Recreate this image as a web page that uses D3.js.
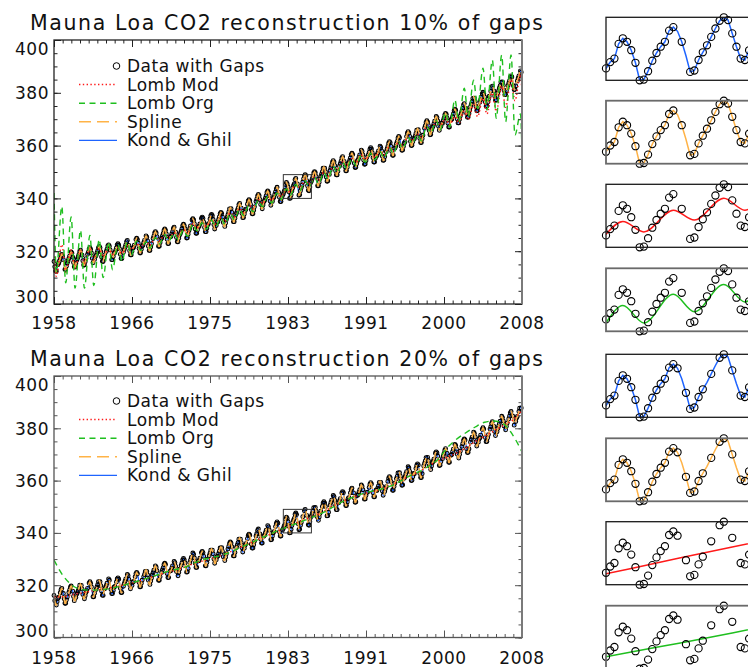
<!DOCTYPE html>
<html>
<head>
<meta charset="utf-8">
<script src="https://cdn.jsdelivr.net/npm/d3@7"></script>
<style>
  body { margin: 0; background: #fff; }
  svg { display: block; font-family: "DejaVu Sans", sans-serif; }
</style>
</head>
<body>
<div id="chart"></div>
<script>
// monthly CO2 (ppm), first row Jul-Dec 1958, last row Jan-Jun 2008
const co2 = [
  316.1, 314.1, 312.5, 312.4, 313.7, 314.9,
  315.4, 316.3, 317.1, 318.3, 318.8, 318.2, 316.8, 314.8, 313.1, 313.1, 314.4, 315.5,
  316.3, 317.2, 318.1, 319.2, 319.7, 319.2, 317.7, 315.7, 314.1, 314.0, 315.3, 316.5,
  317.1, 317.9, 318.8, 320.0, 320.4, 319.9, 318.5, 316.4, 314.8, 314.8, 316.0, 317.2,
  317.9, 318.8, 319.6, 320.8, 321.3, 320.7, 319.3, 317.3, 315.6, 315.6, 316.9, 318.0,
  318.4, 319.3, 320.2, 321.3, 321.8, 321.3, 319.8, 317.8, 316.2, 316.1, 317.4, 318.6,
  319.1, 319.9, 320.8, 322.0, 322.4, 321.9, 320.5, 318.4, 316.8, 316.8, 318.0, 319.2,
  319.5, 320.3, 321.2, 322.4, 322.8, 322.3, 320.9, 318.8, 317.2, 317.2, 318.4, 319.6,
  320.6, 321.5, 322.4, 323.6, 324.1, 323.6, 322.2, 320.2, 318.6, 318.6, 319.9, 321.1,
  321.4, 322.3, 323.2, 324.4, 324.9, 324.4, 323.0, 321.0, 319.4, 319.4, 320.7, 321.9,
  322.3, 323.2, 324.1, 325.3, 325.8, 325.3, 323.9, 321.9, 320.3, 320.3, 321.6, 322.8,
  323.9, 324.8, 325.7, 326.9, 327.4, 326.9, 325.5, 323.5, 321.9, 321.9, 323.2, 324.4,
  324.9, 325.8, 326.7, 327.9, 328.4, 327.9, 326.5, 324.5, 322.9, 322.9, 324.2, 325.4,
  325.6, 326.5, 327.4, 328.6, 329.1, 328.6, 327.2, 325.2, 323.6, 323.6, 324.9, 326.1,
  326.7, 327.6, 328.5, 329.7, 330.2, 329.7, 328.5, 326.6, 325.0, 325.1, 326.4, 327.7,
  328.6, 329.6, 330.6, 331.8, 332.3, 331.8, 330.4, 328.4, 326.8, 326.8, 328.1, 329.3,
  329.4, 330.3, 331.2, 332.4, 332.9, 332.4, 331.0, 329.0, 327.4, 327.4, 328.7, 329.9,
  330.4, 331.3, 332.2, 333.4, 333.9, 333.4, 332.0, 330.0, 328.4, 328.4, 329.7, 330.9,
  331.1, 332.0, 333.0, 334.2, 334.7, 334.3, 332.9, 330.9, 329.4, 329.4, 330.7, 332.0,
  332.9, 333.8, 334.8, 336.0, 336.5, 336.1, 334.7, 332.7, 331.2, 331.2, 332.5, 333.8,
  334.5, 335.4, 336.3, 337.6, 338.1, 337.6, 336.3, 334.3, 332.7, 332.8, 334.1, 335.3,
  335.9, 336.8, 337.8, 339.0, 339.5, 339.1, 337.7, 335.7, 334.2, 334.2, 335.5, 336.8,
  337.8, 338.8, 339.7, 340.9, 341.5, 341.0, 339.6, 337.7, 336.1, 336.1, 337.5, 338.7,
  339.2, 340.1, 341.0, 342.3, 342.8, 342.3, 341.0, 339.0, 337.4, 337.5, 338.8, 340.0,
  340.5, 341.5, 342.4, 343.6, 344.2, 343.7, 342.3, 340.4, 338.8, 338.8, 340.2, 341.1,
  341.7, 342.6, 343.1, 345.2, 346.0, 345.5, 344.3, 342.5, 340.0, 340.1, 341.3, 342.8,
  343.9, 344.8, 345.5, 347.1, 347.6, 347.0, 345.5, 343.5, 341.2, 341.4, 342.9, 344.0,
  345.0, 346.2, 347.4, 348.5, 349.0, 348.6, 346.7, 344.8, 343.1, 342.9, 344.3, 345.9,
  346.5, 347.4, 348.4, 349.6, 350.1, 349.7, 348.3, 346.3, 344.8, 344.8, 346.1, 347.4,
  348.3, 349.2, 350.1, 351.4, 351.9, 351.4, 350.1, 348.1, 346.5, 346.6, 347.9, 349.1,
  350.6, 351.6, 352.5, 353.7, 354.3, 353.8, 352.4, 350.5, 348.9, 348.9, 350.3, 351.5,
  352.2, 353.1, 354.1, 355.3, 355.8, 355.4, 354.0, 352.0, 350.5, 350.5, 351.8, 353.1,
  353.5, 354.4, 355.3, 356.6, 357.1, 356.6, 355.3, 353.3, 351.7, 351.8, 353.1, 354.3,
  354.7, 355.6, 356.5, 357.8, 358.3, 357.8, 356.5, 354.5, 352.9, 353.0, 354.3, 355.5,
  355.5, 356.5, 357.4, 358.6, 359.2, 358.7, 357.3, 355.4, 353.8, 353.8, 355.2, 356.4,
  356.2, 357.1, 358.0, 359.3, 359.8, 359.3, 358.0, 356.0, 354.4, 354.5, 355.8, 357.0,
  357.7, 358.7, 359.7, 360.9, 361.5, 361.1, 359.7, 357.8, 356.3, 356.3, 357.7, 359.0,
  359.7, 360.7, 361.6, 362.9, 363.5, 363.0, 361.7, 359.8, 358.2, 358.3, 359.7, 360.9,
  361.5, 362.5, 363.4, 364.7, 365.3, 364.8, 363.5, 361.6, 360.0, 360.1, 361.5, 362.7,
  362.6, 363.6, 364.6, 365.8, 366.4, 366.0, 364.6, 362.7, 361.2, 361.2, 362.6, 363.9,
  365.6, 366.6, 367.5, 368.8, 369.4, 368.9, 367.6, 365.7, 364.1, 364.2, 365.6, 366.8,
  367.3, 368.2, 369.2, 370.5, 371.0, 370.6, 369.3, 367.3, 365.8, 365.9, 367.2, 368.5,
  368.4, 369.4, 370.4, 371.6, 372.2, 371.8, 370.4, 368.5, 367.0, 367.0, 368.4, 369.7,
  370.0, 371.0, 372.0, 373.2, 373.8, 373.4, 372.0, 370.1, 368.6, 368.6, 370.0, 371.3,
  372.2, 373.1, 374.1, 375.4, 375.9, 375.5, 374.2, 372.2, 370.7, 370.8, 372.1, 373.4,
  374.7, 375.7, 376.6, 377.9, 378.5, 378.0, 376.7, 374.8, 373.2, 373.3, 374.7, 375.9,
  376.4, 377.4, 378.3, 379.6, 380.2, 379.7, 378.4, 376.5, 374.9, 375.0, 376.4, 377.6,
  378.7, 379.7, 380.6, 381.9, 382.5, 382.0, 380.7, 378.8, 377.2, 377.3, 378.7, 379.9,
  380.8, 381.8, 382.7, 384.0, 384.6, 384.1, 382.8, 380.9, 379.3, 379.4, 380.8, 382.0,
  382.7, 383.6, 384.6, 385.9, 386.4, 386.0, 384.7, 382.7, 381.2, 381.3, 382.6, 383.9,
  384.5, 385.5, 386.4, 387.7, 388.3, 387.8
];

// indices of removed months
const gaps10 = [4, 13, 21, 35, 42, 51, 66, 73, 88, 95, 104, 117, 126, 133, 148, 155, 169, 176, 188, 199,
  207, 218, 226, 239, 247, 258, 266, 279, 287, 311, 313, 337, 346, 352, 365, 371, 384, 393, 402, 417,
  425, 436, 444, 451, 466, 474, 489, 495, 508, 516, 527, 538, 545, 559, 563, 574, 581, 588, 593, 597];
const gaps20 = [2, 7, 11, 18, 23, 27, 34, 38, 44, 49, 53, 58, 64, 69, 72, 79, 84, 88, 93, 99,
  103, 108, 114, 118, 122, 129, 133, 137, 144, 148, 153, 158, 162, 169, 173, 177, 184, 188, 193, 198,
  202, 207, 214, 218, 222, 229, 233, 238, 243, 247, 252, 258, 263, 268, 273, 277, 283, 288, 292, 312,
  318, 320, 323, 325, 334, 338, 343, 349, 353, 357, 364, 368, 372, 379, 383, 388, 393, 397, 403, 408,
  412, 418, 423, 427, 433, 438, 442, 448, 453, 457, 463, 468, 473, 478, 482, 488, 493, 497, 503, 508,
  513, 518, 522, 528, 533, 537, 543, 548, 552, 558, 563, 567, 573, 578, 582, 587, 589, 591, 595, 598];

// Lomb reconstructions, 10% gaps: yearly trough (Oct) and peak (May), plus start/end values
const lombMod10Trough = [310.5, 312.0, 313.5, 315.5, 316.8, 318.0, 318.8, 319.2, 320.6, 321.4,
  322.2, 323.8, 324.9, 325.5, 326.7, 328.9, 329.4, 330.3, 331.2, 333.0,
  334.6, 336.0, 338.0, 339.3, 340.7, 342.2, 343.9, 345.3, 346.6, 348.4,
  350.8, 352.3, 353.6, 354.8, 355.7, 356.3, 358.0, 360.0, 361.8, 362.9,
  365.9, 367.6, 367.8, 368.5, 369.8, 371.0, 372.0, 373.0, 374.5, 377.0];
const lombMod10Peak = [322.5, 320.5, 320.5, 320.8, 320.9, 321.0, 320.7, 322.1, 322.9, 323.7,
  325.3, 326.4, 327.0, 328.2, 330.4, 330.9, 331.8, 332.7, 334.5, 336.1,
  337.5, 339.5, 340.8, 342.2, 343.7, 345.3, 347.0, 348.1, 349.9, 352.3,
  353.8, 355.1, 356.3, 357.2, 357.8, 359.5, 361.5, 363.3, 364.4, 367.4,
  369.1, 370.3, 371.0, 373.0, 375.5, 378.0, 380.0, 382.5, 385.0, 387.0];
const lombMod10Ends = [318.0, 380.0];

const lombOrg10Trough = [312.0, 308.0, 306.0, 306.0, 307.0, 310.0, 313.0, 316.0, 318.5, 320.3,
  321.1, 322.7, 323.8, 324.4, 325.6, 327.8, 328.3, 329.2, 330.1, 331.9,
  333.5, 334.9, 336.9, 338.2, 339.6, 341.2, 342.8, 344.2, 345.5, 347.3,
  349.7, 351.2, 352.5, 353.7, 354.6, 355.2, 356.9, 358.9, 360.7, 361.8,
  364.8, 366.0, 367.0, 369.0, 371.0, 374.0, 373.5, 370.3, 369.0, 364.0];
const lombOrg10Peak = [337.0, 333.0, 328.0, 326.0, 324.5, 323.5, 322.5, 323.5, 323.8, 323.6,
  325.2, 326.3, 326.9, 328.1, 330.3, 330.8, 331.7, 332.6, 334.4, 336.0,
  337.4, 339.4, 340.7, 342.1, 343.7, 345.3, 346.7, 348.0, 349.8, 352.2,
  353.7, 355.0, 356.2, 357.1, 357.7, 359.4, 361.4, 363.2, 364.3, 367.3,
  369.5, 372.5, 377.3, 381.7, 384.8, 389.3, 392.4, 394.3, 394.3, 372.0];
const lombOrg10Ends = [342.0, 357.7];

// Lomb reconstructions, 20% gaps: one value per year 1958..2008
const lombMod20 = [315.5, 315.6, 316.4, 317.1, 317.8, 318.4, 319.0, 319.7, 320.6, 321.5,
  322.6, 323.8, 324.8, 325.8, 327.0, 328.3, 329.4, 330.5, 331.6, 333.0,
  334.6, 336.1, 337.8, 339.3, 340.8, 342.3, 343.9, 345.4, 346.8, 348.5,
  350.6, 352.3, 353.7, 354.9, 355.8, 356.7, 358.2, 360.0, 361.8, 363.4,
  365.6, 367.5, 369.0, 370.5, 372.5, 374.9, 376.9, 379.0, 381.1, 383.1, 387.0];
const lombOrg20 = [329.6, 323.5, 319.8, 318.3, 318.1, 318.3, 318.8, 319.5, 320.6, 321.6,
  322.7, 323.9, 325.1, 326.0, 326.9, 328.5, 329.9, 330.6, 331.6, 332.9,
  334.6, 336.1, 337.8, 339.4, 341.0, 342.4, 343.7, 345.1, 346.6, 348.2,
  350.3, 352.3, 353.7, 355.0, 356.0, 356.8, 358.0, 359.8, 361.8, 363.4,
  365.5, 368.0, 372.5, 375.8, 378.3, 380.5, 382.3, 382.8, 381.8, 377.5, 371.0];

const xTickLabels = ["1958", "1966", "1975", "1983", "1991", "2000", "2008"];
const yTickValues = [300, 320, 340, 360, 380, 400];
const legendNames = ["Data with Gaps", "Lomb Mod", "Lomb Org", "Spline", "Kond & Ghil"];
const zoomX = [1982.5, 1985.5];
const zoomY = [340, 349];

// ---------------------------------------------------------------
const timeOf = i => 1958 + i / 12;

function extremesToPoints(ends, troughs, peaks) {
  const pts = [[1958, ends[0]]];
  troughs.forEach((v, k) => {
    pts.push([1958 + k + 3 / 12, v]);
    pts.push([1958 + k + 10 / 12, peaks[k]]);
  });
  pts.push([2008, ends[1]]);
  return pts;
}
const annualPoints = vals => vals.map((v, j) => [1958 + j, v]);
const fullPoints = co2.map((v, i) => [timeOf(i), v]);

const styles = {
  mod:    { color: "#ff1a1a", dash: "1.4,2.4", width: 1.5 },
  org:    { color: "#1fbf1f", dash: "6,4.5",   width: 1.4 },
  spline: { color: "#ffb347", dash: "12,6",    width: 1.5 },
  kg:     { color: "#1e64ff", dash: null,      width: 1.3 }
};

const charts = [
  { title: "Mauna Loa CO2 reconstruction 10% of gaps", top: 40, bottom: 304, titleY: 30, labelY: 329,
    legendY: 66, frame: "#222", gaps: new Set(gaps10),
    mod: extremesToPoints(lombMod10Ends, lombMod10Trough, lombMod10Peak),
    org: extremesToPoints(lombOrg10Ends, lombOrg10Trough, lombOrg10Peak) },
  { title: "Mauna Loa CO2 reconstruction 20% of gaps", top: 376, bottom: 637.5, titleY: 366, labelY: 664,
    legendY: 401, frame: "#555", gaps: new Set(gaps20),
    mod: annualPoints(lombMod20), org: annualPoints(lombOrg20) }
];

const svg = d3.select("#chart").append("svg")
    .attr("width", 748)
    .attr("height", 667);

const x = d3.scaleLinear().domain([1958, 2008]).range([54, 522]);
const xMajor = d3.range(7).map(j => 1958 + j * 50 / 6);
const xMinor = d3.range(55).map(j => 1958 + j * 50 / 54);
const yMinor = d3.range(300, 401, 5);

charts.forEach((c, ci) => {
    const y = d3.scaleLinear().domain([300, 400]).range([c.bottom, c.top]);
    const g = svg.append("g");

    g.append("clipPath").attr("id", "clip" + ci)
      .append("rect")
        .attr("x", 54).attr("y", c.top)
        .attr("width", 468).attr("height", c.bottom - c.top);

    // title
    g.append("text")
        .attr("x", 30).attr("y", c.titleY)
        .attr("textLength", 513).attr("lengthAdjust", "spacing")
        .style("font-size", "20.5px").attr("fill", "#111")
        .text(c.title);

    const lineLin = d3.line().x(d => x(d[0])).y(d => y(d[1]));
    const lineSmooth = d3.line().x(d => x(d[0])).y(d => y(d[1])).curve(d3.curveMonotoneX);
    const drawLine = (k, dStr) => g.append("path")
        .attr("clip-path", `url(#clip${ci})`)
        .attr("d", dStr)
        .attr("fill", "none")
        .attr("stroke", styles[k].color)
        .attr("stroke-width", styles[k].width)
        .attr("stroke-dasharray", styles[k].dash);

    // blue sits under the data circles, the other curves above them
    drawLine("kg", lineLin(fullPoints));

    g.append("g").selectAll("circle")
        .data(fullPoints.filter((p, i) => !c.gaps.has(i)))
        .join("circle")
        .attr("cx", d => x(d[0])).attr("cy", d => y(d[1]))
        .attr("r", 1.9)
        .attr("fill", "none").attr("stroke", "#000").attr("stroke-width", 1.1);

    drawLine("spline", lineLin(fullPoints));
    drawLine("mod", lineSmooth(c.mod));
    drawLine("org", lineSmooth(c.org));

    // zoom box
    g.append("rect")
        .attr("x", x(zoomX[0])).attr("y", y(zoomY[1]))
        .attr("width", x(zoomX[1]) - x(zoomX[0]))
        .attr("height", y(zoomY[0]) - y(zoomY[1]))
        .attr("fill", "none").attr("stroke", "#333").attr("stroke-width", 1);

    // axes: ticks point inward on all four sides
    const tickGroup = (axis, tr) => g.append("g")
        .attr("transform", tr)
        .attr("color", c.frame)
        .call(axis.tickFormat("").tickSizeOuter(0))
        .call(s => s.select(".domain").remove());
    tickGroup(d3.axisLeft(y).tickValues(yTickValues).tickSizeInner(-7), "translate(54,0)");
    tickGroup(d3.axisLeft(y).tickValues(yMinor).tickSizeInner(-3.5), "translate(54,0)");
    tickGroup(d3.axisRight(y).tickValues(yTickValues).tickSizeInner(-7), "translate(522,0)");
    tickGroup(d3.axisRight(y).tickValues(yMinor).tickSizeInner(-3.5), "translate(522,0)");
    tickGroup(d3.axisBottom(x).tickValues(xMajor).tickSizeInner(-7), `translate(0,${c.bottom})`);
    tickGroup(d3.axisBottom(x).tickValues(xMinor).tickSizeInner(-3.5), `translate(0,${c.bottom})`);
    tickGroup(d3.axisTop(x).tickValues(xMajor).tickSizeInner(-7), `translate(0,${c.top})`);
    tickGroup(d3.axisTop(x).tickValues(xMinor).tickSizeInner(-3.5), `translate(0,${c.top})`);

    g.append("rect")
        .attr("x", 54).attr("y", c.top)
        .attr("width", 468).attr("height", c.bottom - c.top)
        .attr("fill", "none").attr("stroke", c.frame).attr("stroke-width", 1.3);
    g.append("line")
        .attr("x1", 522).attr("x2", 522).attr("y1", c.top).attr("y2", c.bottom)
        .attr("stroke", "#7a7a7a").attr("stroke-width", 2);

    // tick labels
    g.append("g").selectAll("text")
        .data(yTickValues)
        .join("text")
        .attr("x", 49)
        .attr("y", d => Math.min(Math.max(y(d) + 0.5, c.top + 8.5), c.bottom - 7))
        .attr("text-anchor", "end")
        .attr("dominant-baseline", "central")
        .style("font-size", "17px").style("letter-spacing", "0.5px")
        .attr("fill", "#111")
        .text(d => d);
    g.append("g").selectAll("text")
        .data(xMajor)
        .join("text")
        .attr("x", d => x(d))
        .attr("y", c.labelY)
        .attr("text-anchor", "middle")
        .style("font-size", "17px").style("letter-spacing", "0.5px")
        .attr("fill", "#111")
        .text((d, j) => xTickLabels[j]);

    // legend
    const leg = g.append("g");
    const rowH = 18.6;
    leg.append("circle")
        .attr("cx", 116.5).attr("cy", c.legendY).attr("r", 3.3)
        .attr("fill", "none").attr("stroke", "#000").attr("stroke-width", 1);
    ["mod", "org", "spline", "kg"].forEach((k, r) => {
        leg.append("line")
            .attr("x1", 79).attr("x2", 117)
            .attr("y1", c.legendY + (r + 1) * rowH).attr("y2", c.legendY + (r + 1) * rowH)
            .attr("stroke", styles[k].color)
            .attr("stroke-width", styles[k].width)
            .attr("stroke-dasharray", styles[k].dash);
    });
    leg.selectAll("text")
        .data(legendNames)
        .join("text")
        .attr("x", 127)
        .attr("y", (d, r) => c.legendY + r * rowH)
        .attr("dominant-baseline", "central")
        .style("font-size", "17px").style("letter-spacing", "0.5px")
        .attr("fill", "#111")
        .text(d => d);
});

// zoomed panels on the right
const panelTops = [17.3, 100.7, 184.3, 268.3, 354.3, 438.3, 521.7, 605.7];
const panelH = 63;
const methods = ["kg", "spline", "mod", "org"];
const px = d3.scaleLinear().domain(zoomX).range([606, 606 + 151.5]);

panelTops.forEach((top, p) => {
    const c = charts[Math.floor(p / 4)];
    const m = methods[p % 4];
    const py = d3.scaleLinear().domain(zoomY).range([top + panelH, top]);
    const g = svg.append("g");

    g.append("clipPath").attr("id", "pclip" + p)
      .append("rect")
        .attr("x", 606).attr("y", top)
        .attr("width", 151.5).attr("height", panelH);

    const pts = (m === "kg" || m === "spline") ? fullPoints : c[m];
    const line = d3.line().x(d => px(d[0])).y(d => py(d[1]))
        .curve(m === "kg" || m === "spline" ? d3.curveLinear : d3.curveMonotoneX);
    g.append("path")
        .attr("clip-path", `url(#pclip${p})`)
        .attr("d", line(pts.filter(d => d[0] > zoomX[0] - 1 && d[0] < zoomX[1] + 1)))
        .attr("fill", "none")
        .attr("stroke", styles[m].color)
        .attr("stroke-width", 1.5);

    g.append("g").selectAll("circle")
        .data(fullPoints.filter((d, i) => !c.gaps.has(i) && d[0] >= zoomX[0] - 1e-6 && d[0] <= zoomX[1]))
        .join("circle")
        .attr("cx", d => px(d[0])).attr("cy", d => py(d[1]))
        .attr("r", 3.6)
        .attr("fill", "none").attr("stroke", "#000").attr("stroke-width", 1.1);

    g.append("rect")
        .attr("x", 606).attr("y", top)
        .attr("width", 151.5).attr("height", panelH)
        .attr("fill", "none")
        .attr("stroke", p % 2 === 0 ? "#1a1a1a" : "#6a6a6a")
        .attr("stroke-width", p % 2 === 0 ? 1.3 : 1.8);
});
</script>
</body>
</html>
